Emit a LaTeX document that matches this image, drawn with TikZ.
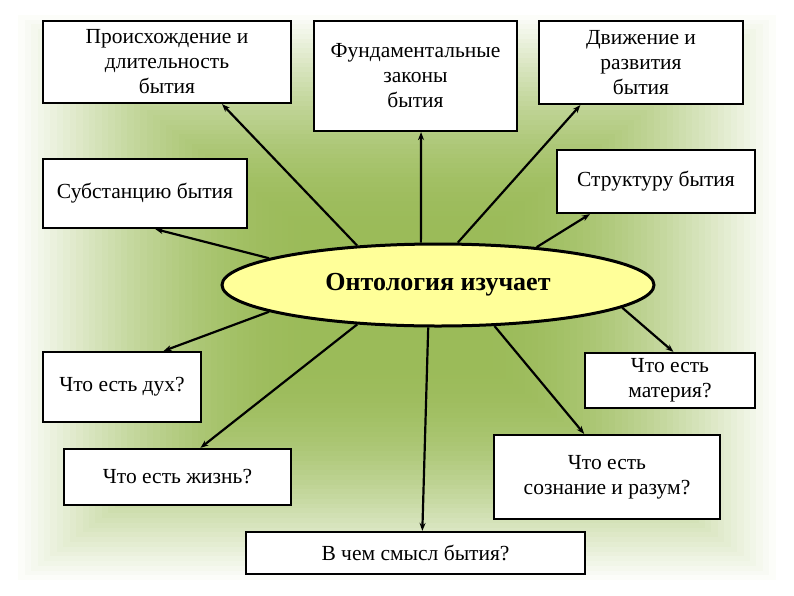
\documentclass[tikz,border=0pt]{standalone}
\usepackage{fontspec}
\setmainfont{Liberation Serif}
\usetikzlibrary{arrows.meta,positioning,calc,shapes.geometric}
\definecolor{OntGreen}{RGB}{155,187,89}
\definecolor{OntYellow}{RGB}{255,255,153}
\tikzset{
  ont/box/.style={
    draw=black,
    line width=2.2pt,
    fill=white,
    align=center,
    text=black,
    inner sep=2pt,
    font=\fontsize{21.5}{25}\selectfont
  },
  ont/core/.style={
    ellipse,
    draw=black,
    line width=3pt,
    fill=OntYellow,
    inner sep=0pt,
    minimum width=432pt,
    minimum height=82pt,
    font=\fontsize{26}{30}\selectfont\bfseries
  },
  ont/arrow/.style={-{Stealth[length=8pt,width=6pt]}, line width=2.2pt, draw=black}
}

\begin{document}
\begin{tikzpicture}[x=1pt,y=-1pt]
  \useasboundingbox (0,0) rectangle (794,595);
  \fill[white] (0,0) rectangle (794,595);
  % rectangular gradient behind
  \foreach \i [evaluate=\i as \p using {100*sin(min(90,\i*90/46))},
               evaluate=\i as \dx using {12+\i/60*385},
               evaluate=\i as \dy using {10+\i/60*287}] in {0,...,60}
    \fill[OntGreen!\p!white] (\dx,\dy) rectangle (794-\dx,595-\dy);

  \node[ont/core] (onto) at (438,285) {Онтология изучает};

  \node[ont/box,minimum width=248pt,minimum height=82pt] (orig) at (167,62) {Происхождение и\\длительность\\бытия};
  \node[ont/box,minimum width=203pt,minimum height=110pt] (laws) at (415.5,76) {Фундаментальные\\законы\\бытия};
  \node[ont/box,minimum width=204pt,minimum height=83pt] (motion) at (641,62.5) {Движение и\\развития\\бытия};
  \node[ont/box,minimum width=204pt,minimum height=69pt] (subst) at (145,193.5) {Субстанцию бытия};
  \node[ont/box,minimum width=198pt,minimum height=63pt] (struct) at (656,181.5) {Структуру бытия};
  \node[ont/box,minimum width=158pt,minimum height=70pt] (spirit) at (122,387) {Что есть дух?};
  \node[ont/box,minimum width=227pt,minimum height=56pt] (life) at (177.5,477) {Что есть жизнь?};
  \node[ont/box,minimum width=339pt,minimum height=42pt] (sense) at (415.5,553) {В чем смысл бытия?};
  \node[ont/box,minimum width=170pt,minimum height=55pt] (matter) at (670,380.5) {Что есть\\материя?};
  \node[ont/box,minimum width=226pt,minimum height=84pt] (mind) at (607,477) {Что есть\\сознание и разум?};

  \foreach \ang/\to/\aa/\bb/\f in {154.6/orig/south west/south east/0.72, 171.7/subst/south west/south east/0.55,
      112.5/laws/south west/south east/0.527, 65/motion/south west/south east/0.206,
      21.2/struct/south west/south east/0.17, 189.6/spirit/north west/north east/0.76,
      206.8/life/north west/north east/0.60, 257.6/sense/north west/north east/0.52,
      324.7/mind/north west/north east/0.40, 353.2/matter/north west/north east/0.52}
    \draw[ont/arrow] (onto.\ang) -- ($(\to.\aa)!\f!(\to.\bb)$);
\end{tikzpicture}
\end{document}
